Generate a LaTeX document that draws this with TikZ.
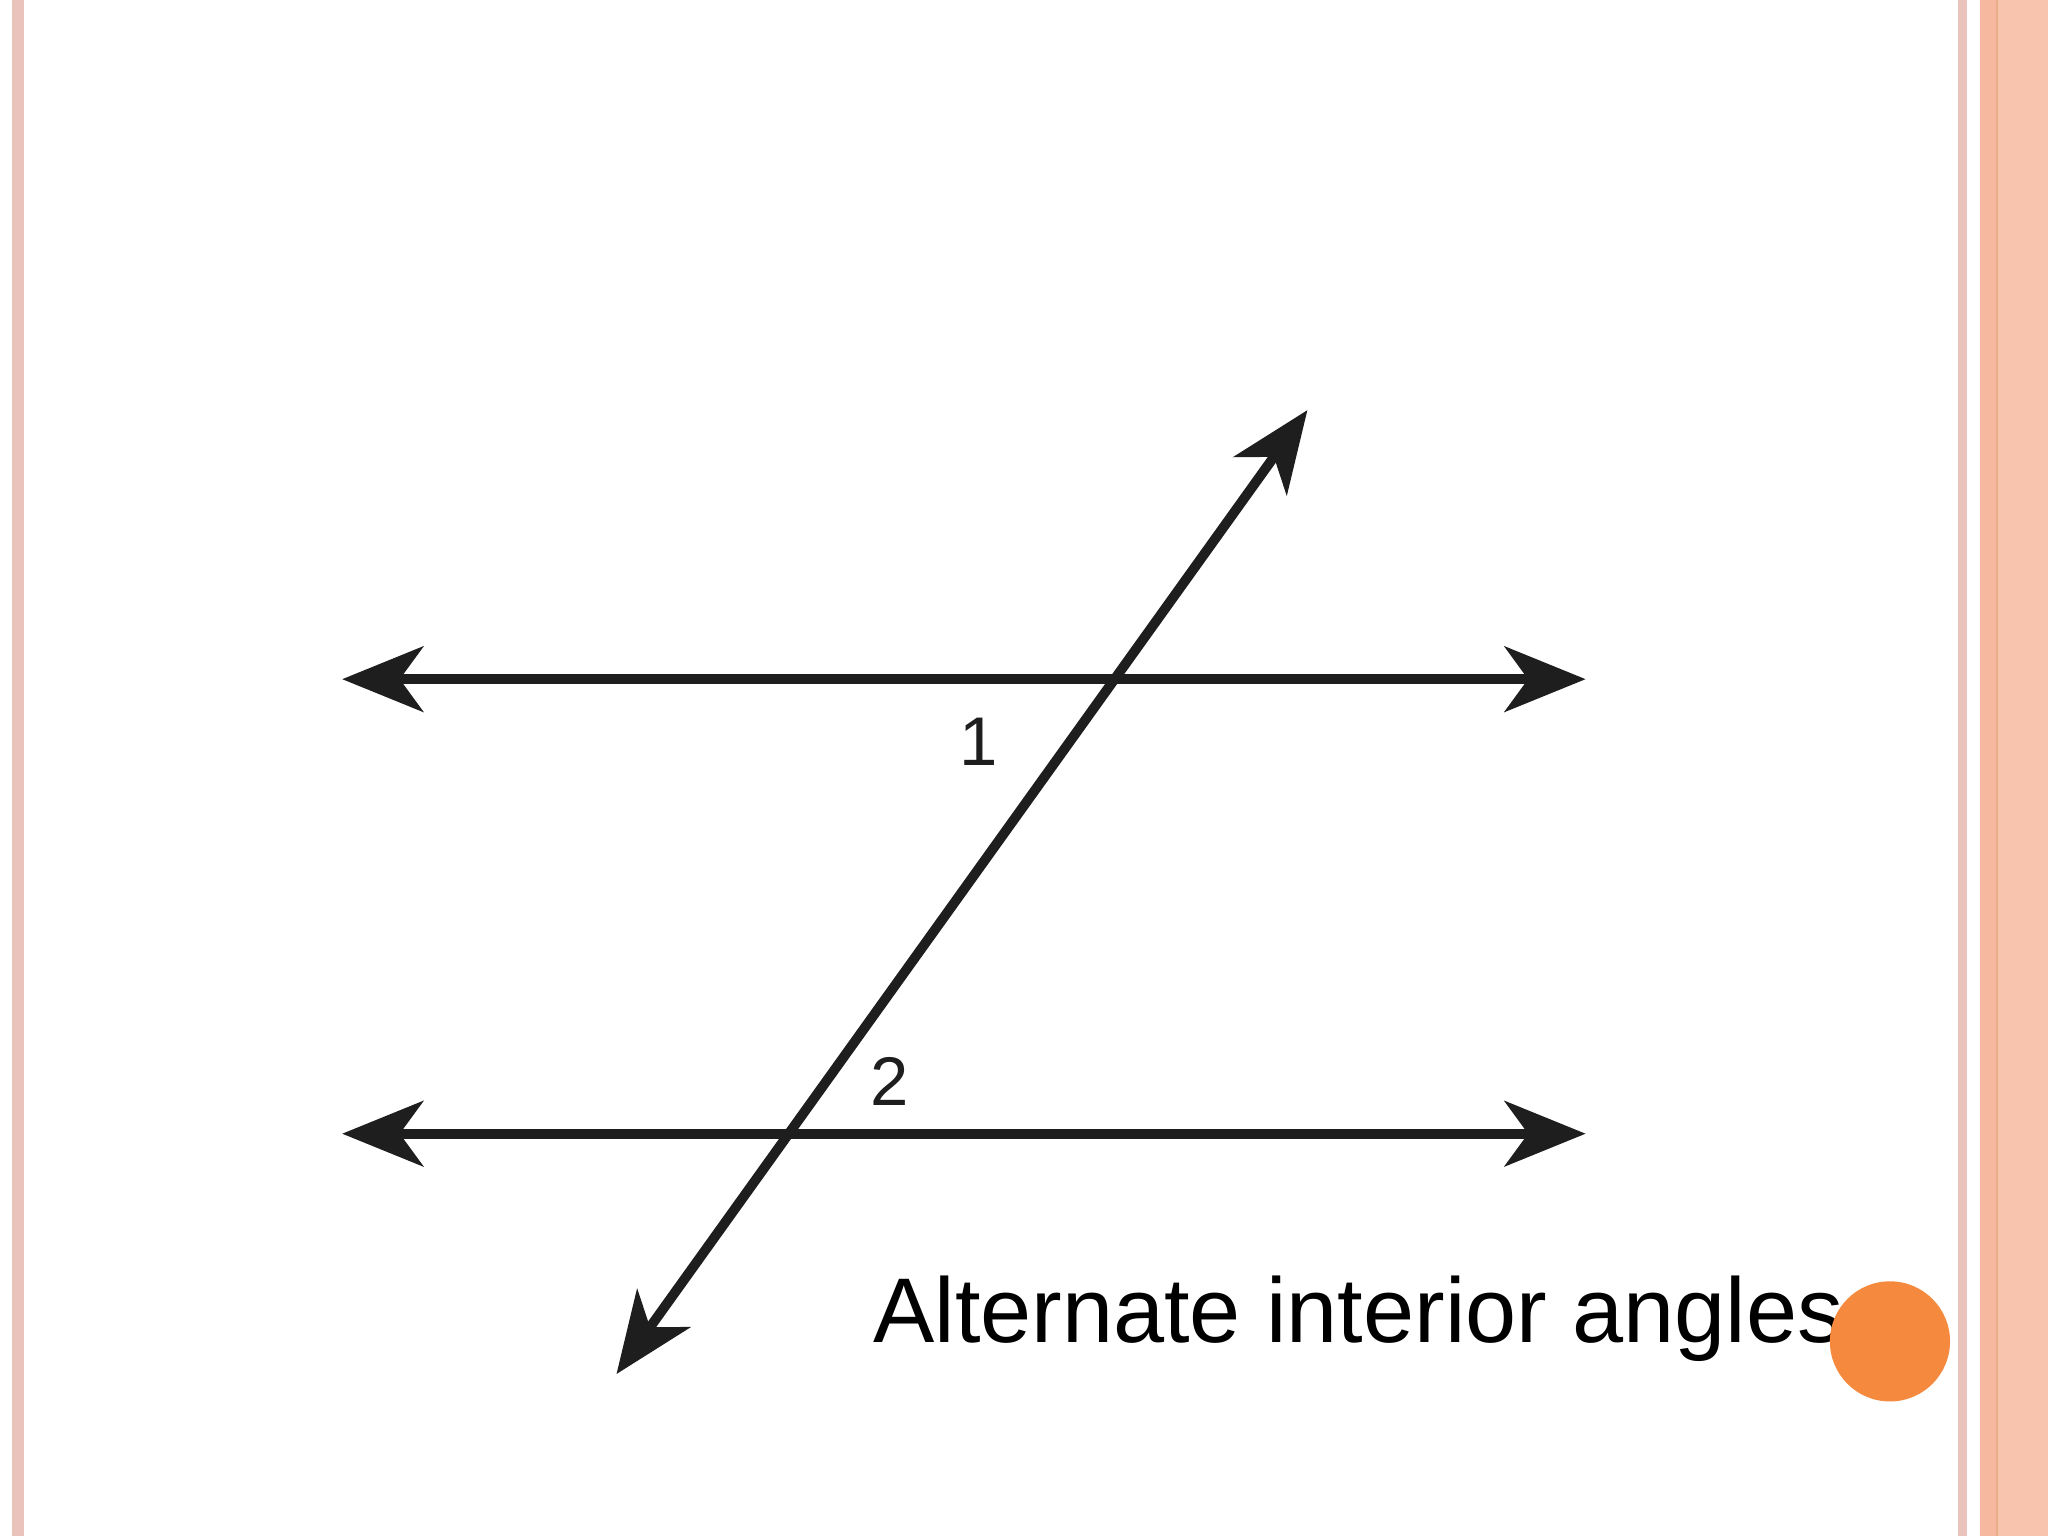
\documentclass[tikz,border=0pt]{standalone}
\usepackage{fontspec}
\setmainfont{Liberation Sans}
\usetikzlibrary{arrows.meta}
\definecolor{orng}{HTML}{F58A3F}
\definecolor{salm}{HTML}{F9C4AE}
\definecolor{pinkl}{HTML}{EBC3BD}
\definecolor{salmd}{HTML}{F7B8A0}
\definecolor{ink}{HTML}{1E1E1E}
\begin{document}
\begin{tikzpicture}[x=0.01cm,y=-0.01cm,
  ray/.style={ink,line width=0.075cm,{Stealth[length=0.62cm,width=0.5cm,inset=0.18cm]}-{Stealth[length=0.62cm,width=0.5cm,inset=0.18cm]}},
  lbl/.style={font=\fontsize{15}{15}\selectfont,text=ink}]
\useasboundingbox (0,0) rectangle (1568,1176);
\fill[white] (0,0) rectangle (1568,1176);
\fill[pinkl] (9,0) rectangle (18,1176);
\fill[pinkl] (1499,0) rectangle (1506,1176);
\fill[salmd] (1516,0) rectangle (1528,1176);
\fill[salm] (1530,0) rectangle (1568,1176);
\draw[line width=0.015cm,color=salm!70!brown] (1529,0) -- (1529,1176);
\coordinate (t1) at (262,520); \coordinate (t2) at (1214,520);
\coordinate (b1) at (262,868); \coordinate (b2) at (1214,868);
\coordinate (d1) at (472,1052); \coordinate (d2) at (1001,314);
\draw[ray] (t1) -- (t2);
\draw[ray] (b1) -- (b2);
\draw[ray] (d1) -- (d2);
\node[lbl] (n1) at (749,568) {1};
\node[lbl] (n2) at (681,828) {2};
\node[font=\fontsize{20}{20}\selectfont,anchor=base west,inner sep=0] (cap) at (668,1028) {Alternate interior angles};
\fill[orng] (1447,1027) circle (46);
\end{tikzpicture}
\end{document}
